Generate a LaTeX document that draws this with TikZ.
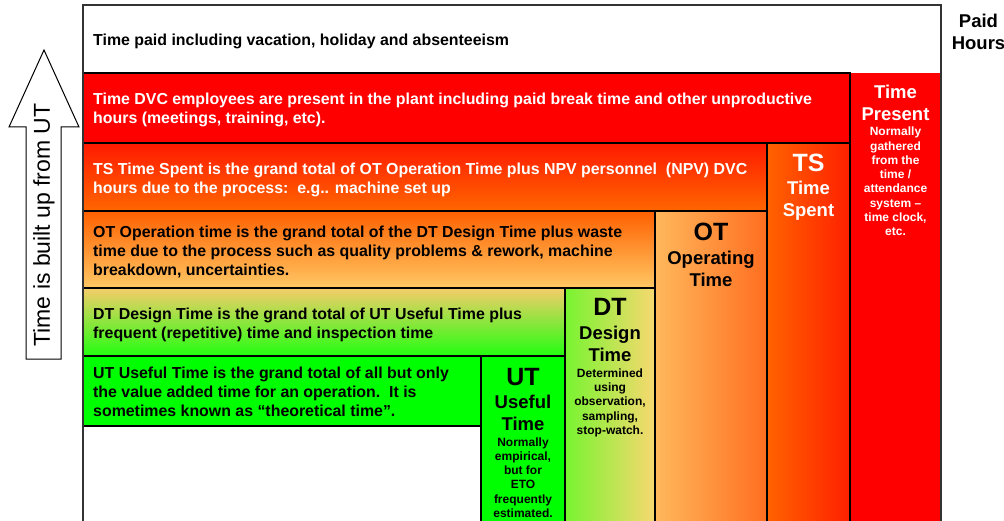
\documentclass[tikz,border=0pt]{standalone}
\usepackage{fontspec}
\setmainfont{Liberation Sans}
\definecolor{myred}{HTML}{FF0000}
\definecolor{tsTop}{HTML}{FF1A00}
\definecolor{tsBot}{HTML}{FF6600}
\definecolor{tsL}{HTML}{FF6200}
\definecolor{tsR}{HTML}{FF2000}
\definecolor{otTop}{HTML}{FF6000}
\definecolor{otBot}{HTML}{FFC864}
\definecolor{otL}{HTML}{FFB85C}
\definecolor{otR}{HTML}{FF6E20}
\definecolor{dtTop}{HTML}{F6CC6A}
\definecolor{dtBot}{HTML}{22FF10}
\definecolor{dtL}{HTML}{78F430}
\definecolor{dtR}{HTML}{F8D870}
\definecolor{utG}{HTML}{00FF00}
\definecolor{frame}{HTML}{333333}
\begin{document}
\begin{tikzpicture}[x=1pt,y=-1pt,
  cell/.style={draw=black,line width=1.3pt},
  rowtext/.style={anchor=west,inner sep=0pt,align=left,font=\bfseries\fontsize{15.9}{19}\selectfont},
  bigt/.style={inner sep=0pt,font=\bfseries\fontsize{25}{25}\selectfont},
  midt/.style={inner sep=0pt,align=center,font=\bfseries\fontsize{18.5}{22}\selectfont},
  smallt/.style={inner sep=0pt,align=center,font=\bfseries\fontsize{12}{14.3}\selectfont},
  wtext/.style={text=white}]
\useasboundingbox (0,0) rectangle (1004,521);
\fill[white] (0,0) rectangle (1004,521);
% fills
\fill[white] (83,5) rectangle (941,73);
\fill[myred] (83,73) rectangle (850,143);
\fill[myred] (850,73) rectangle (941,530);
\shade[top color=tsTop,bottom color=tsBot] (83,143) rectangle (767,211);
\shade[left color=tsL,right color=tsR] (767,143) rectangle (850,530);
\shade[top color=otTop,bottom color=otBot] (83,211) rectangle (655,288);
\shade[left color=otL,right color=otR] (655,211) rectangle (767,530);
\shade[top color=dtTop,bottom color=dtBot] (83,288) rectangle (565,356);
\shade[left color=dtL,right color=dtR] (565,288) rectangle (655,530);
\fill[utG] (83,356) rectangle (481,426);
\fill[utG] (481,356) rectangle (565,530);
% borders
\draw[cell] (83,73) rectangle (850,143);
\draw[cell] (83,143) rectangle (767,211);
\draw[cell] (83,211) rectangle (655,288);
\draw[cell] (83,288) rectangle (565,356);
\draw[cell] (83,356) rectangle (481,426);
\draw[cell] (481,356) -- (481,530);
\draw[cell] (565,288) -- (565,530);
\draw[cell] (655,211) -- (655,530);
\draw[cell] (767,143) -- (767,530);
\draw[cell] (850,73) -- (850,530);
\draw[cell] (83,530) -- (83,426);
\draw[draw=frame,line width=1.6pt] (83,530) -- (83,5) -- (941,5) -- (941,530);
% arrow
\draw[fill=white,line width=1pt,line join=miter] (26,359) -- (26,127) -- (9,127) -- (44,50) -- (79,127) -- (61,127) -- (61,359) -- cycle;
\node[rotate=90,inner sep=0pt,font=\fontsize{23}{23}\selectfont] (arrowtext) at (44,225) {Time is built up from UT};
% row texts
\node[rowtext] (r1) at (93,41.5) {Time paid including vacation, holiday and absenteeism};
\node[rowtext,wtext] (r2) at (93,110.4) {Time DVC employees are present in the plant including paid break time and other unproductive\\hours (meetings, training, etc).};
\node[rowtext,wtext] (r3) at (93,180.3) {TS Time Spent is the grand total of OT Operation Time plus NPV personnel\ \ (NPV) DVC\\hours due to the process:\ \ e.g.. machine set up};
\node[rowtext] (r4) at (93,251.6) {OT Operation time is the grand total of the DT Design Time plus waste\\time due to the process such as quality problems \& rework, machine\\breakdown, uncertainties.};
\node[rowtext] (r5) at (93,324.6) {DT Design Time is the grand total of UT Useful Time plus\\frequent (repetitive) time and inspection time};
\node[rowtext] (r6) at (93,392.2) {UT Useful Time is the grand total of all but only\\the value added time for an operation.\ \ It is\\sometimes known as “theoretical time”.};
% column texts
\node[midt,wtext] (tpm) at (895.5,102.5) {Time\\Present};
\node[smallt,wtext] (tps) at (895.5,181.5) {Normally\\gathered\\from the\\time /\\attendance\\system –\\time clock,\\etc.};
\node[bigt,wtext] (tsb) at (808.5,163.3) {TS};
\node[midt,wtext] (tsm) at (808.5,201) {Time\\Spent};
\node[bigt] (otb) at (711,232.3) {OT};
\node[midt] (otm) at (711,269) {Operating\\Time};
\node[bigt] (dtb) at (610,307.3) {DT};
\node[midt] (dtm) at (610,343.5) {Design\\Time};
\node[smallt] (dts) at (610,402.7) {Determined\\using\\observation,\\sampling,\\stop-watch.};
\node[bigt] (utb) at (523,376.7) {UT};
\node[midt] (utm) at (523,413.2) {Useful\\Time};
\node[smallt] (uts) at (523,477.5) {Normally\\empirical,\\but for\\ETO\\frequently\\estimated.};
\node[midt] (paid) at (978.5,32) {Paid\\Hours};
\end{tikzpicture}
\end{document}
